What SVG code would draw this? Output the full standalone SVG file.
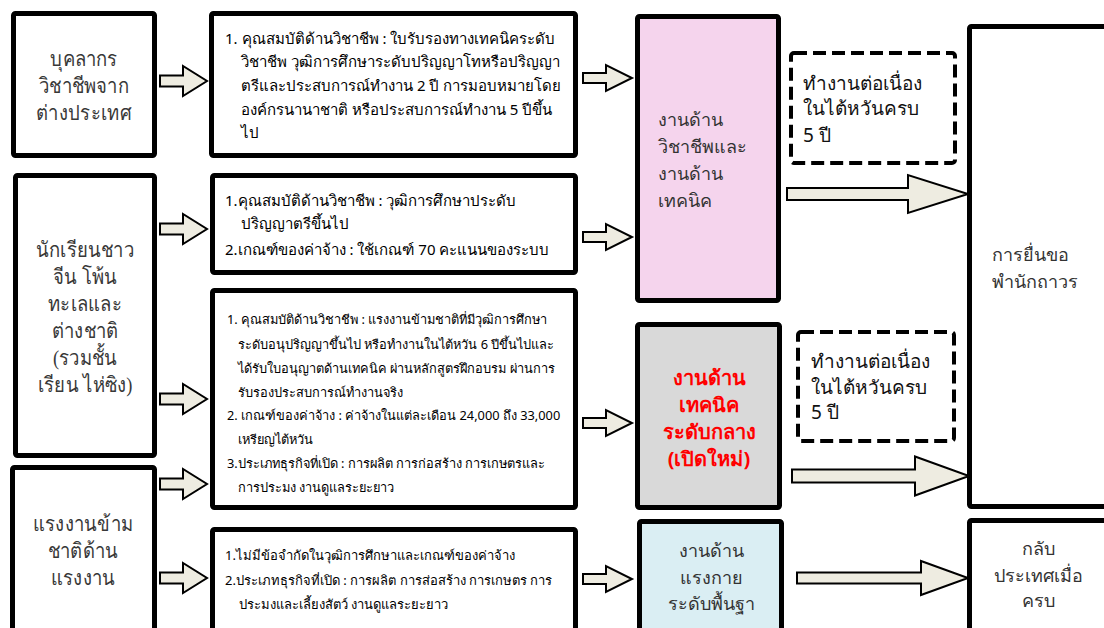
<svg xmlns="http://www.w3.org/2000/svg" width="1104" height="628" viewBox="0 0 1104 628">
<style>
.box{stroke:#000;stroke-width:5;stroke-linejoin:round}
.dash{fill:#fff;stroke:#000;stroke-width:4;stroke-dasharray:13 6}
.arr{fill:#eeece1;stroke:#000;stroke-width:2;stroke-linejoin:miter}
.lbl{font-family:"Liberation Serif","Noto Sans",serif;font-size:21px;fill:#383838;text-anchor:middle}
.mid{font-family:"Noto Sans","DejaVu Sans",sans-serif;font-size:18px;fill:#333}
.req{font-family:"Noto Sans","DejaVu Sans",sans-serif;font-size:15px;fill:#000}
.req2{font-family:"Noto Sans","DejaVu Sans",sans-serif;font-size:12.8px;fill:#000}
.req3{font-family:"Noto Sans","DejaVu Sans",sans-serif;font-size:13px;fill:#000}
.bold{font-family:"Noto Sans","DejaVu Sans",sans-serif;font-size:19px;fill:#111}
.red{font-family:"Noto Sans","DejaVu Sans",sans-serif;font-size:20px;font-weight:bold;fill:#ff0000}
.c{text-anchor:middle}
</style>
<rect width="1104" height="628" fill="#fff"/>
<g id="connectors">
<polygon class="arr" points="160,75.5 183,75.5 183,66 207,81 183,96 183,86.5 160,86.5"/>
<polygon class="arr" points="160,223.5 183,223.5 183,214 207,229 183,244 183,234.5 160,234.5"/>
<polygon class="arr" points="160,393.5 183,393.5 183,384 207,399 183,414 183,404.5 160,404.5"/>
<polygon class="arr" points="160,478.5 183,478.5 183,469 207,484 183,499 183,489.5 160,489.5"/>
<polygon class="arr" points="160,572.5 183,572.5 183,563 207,578 183,593 183,583.5 160,583.5"/>
<polygon class="arr" points="583,73 606,73 606,65 632,78 606,91 606,83 583,83"/>
<polygon class="arr" points="583,232 606,232 606,224 632,237 606,250 606,242 583,242"/>
<polygon class="arr" points="583,418 606,418 606,410 632,423 606,436 606,428 583,428"/>
<polygon class="arr" points="583,574 606,574 606,566 632,579 606,592 606,584 583,584"/>
<polygon class="arr" points="787,188 908,188 908,175 968,194 908,213 908,200 787,200"/>
<polygon class="arr" points="792,469.5 915,469.5 915,456.5 969,476 915,495.5 915,482.5 792,482.5"/>
<polygon class="arr" points="797,572.5 921,572.5 921,561 968,578 921,595 921,583.5 797,583.5"/>
</g>
<g id="n-foreign">
<rect class="box" x="13.5" y="13.5" width="141" height="142" rx="2" fill="#fff"/>
<text class="lbl" transform="translate(84 66) scale(0.88 1)">บุคลากร</text>
<text class="lbl" transform="translate(84 93) scale(0.88 1)">วิชาชีพจาก</text>
<text class="lbl" transform="translate(84 120) scale(0.88 1)">ต่างประเทศ</text>
</g>
<g id="n-req1">
<rect class="box" x="211.5" y="13.5" width="364" height="142" rx="2" fill="#fff"/>
<text class="req" x="225" y="44">1. คุณสมบัติด้านวิชาชีพ : ใบรับรองทางเทคนิคระดับ</text>
<text class="req" x="241" y="67">วิชาชีพ วุฒิการศึกษาระดับปริญญาโทหรือปริญญา</text>
<text class="req" x="241" y="91">ตรีและประสบการณ์ทำงาน 2 ปี การมอบหมายโดย</text>
<text class="req" x="241" y="115">องค์กรนานาชาติ หรือประสบการณ์ทำงาน 5 ปีขึ้น</text>
<text class="req" x="241" y="138">ไป</text>
</g>
<g id="n-students">
<rect class="box" x="15.5" y="175.5" width="139" height="280" rx="2" fill="#fff"/>
<text class="lbl" transform="translate(85 257) scale(0.88 1)">นักเรียนชาว</text>
<text class="lbl" transform="translate(85 284) scale(0.88 1)">จีน โพ้น</text>
<text class="lbl" transform="translate(85 311) scale(0.88 1)">ทะเลและ</text>
<text class="lbl" transform="translate(85 338) scale(0.88 1)">ต่างชาติ</text>
<text class="lbl" transform="translate(85 365) scale(0.88 1)">(รวมชั้น</text>
<text class="lbl" transform="translate(85 392) scale(0.88 1)">เรียน ไห่ซิง)</text>
</g>
<g id="n-req2">
<rect class="box" x="212.5" y="175.5" width="363" height="97" rx="2" fill="#fff"/>
<text class="req" x="225" y="206">1.คุณสมบัติด้านวิชาชีพ : วุฒิการศึกษาประดับ</text>
<text class="req" x="241" y="229">ปริญญาตรีขึ้นไป</text>
<text class="req" x="225" y="255">2.เกณฑ์ของค่าจ้าง : ใช้เกณฑ์ 70 คะแนนของระบบ</text>
</g>
<g id="n-req3">
<rect class="box" x="212.5" y="290.5" width="363" height="217" rx="2" fill="#fff"/>
<text class="req2" x="227" y="324">1. คุณสมบัติด้านวิชาชีพ : แรงงานข้ามชาติที่มีวุฒิการศึกษา</text>
<text class="req2" x="238" y="349">ระดับอนุปริญญาขึ้นไป หรือทำงานในไต้หวัน 6 ปีขึ้นไปและ</text>
<text class="req2" x="238" y="373">ได้รับใบอนุญาตด้านเทคนิค ผ่านหลักสูตรฝึกอบรม ผ่านการ</text>
<text class="req2" x="238" y="397">รับรองประสบการณ์ทำงานจริง</text>
<text class="req2" x="227" y="420">2. เกณฑ์ของค่าจ้าง : ค่าจ้างในแต่ละเดือน 24,000 ถึง 33,000</text>
<text class="req2" x="238" y="444">เหรียญไต้หวัน</text>
<text class="req2" x="227" y="468">3.ประเภทธุรกิจที่เปิด : การผลิต การก่อสร้าง การเกษตรและ</text>
<text class="req2" x="238" y="492">การประมง งานดูแลระยะยาว</text>
</g>
<g id="n-labour">
<rect class="box" x="12.5" y="467.5" width="142" height="175" rx="2" fill="#fff"/>
<text class="lbl" transform="translate(83 531) scale(0.88 1)">แรงงานข้าม</text>
<text class="lbl" transform="translate(83 558) scale(0.88 1)">ชาติด้าน</text>
<text class="lbl" transform="translate(83 585) scale(0.88 1)">แรงงาน</text>
</g>
<g id="n-req4">
<rect class="box" x="212.5" y="529.5" width="363" height="110" rx="2" fill="#fff"/>
<text class="req3" x="225" y="560">1.ไม่มีข้อจำกัดในวุฒิการศึกษาและเกณฑ์ของค่าจ้าง</text>
<text class="req3" x="225" y="585">2.ประเภทธุรกิจที่เปิด : การผลิต การส่อสร้าง การเกษตร การ</text>
<text class="req3" x="239" y="609">ประมงและเลี้ยงสัตว์ งานดูแลระยะยาว</text>
</g>
<g id="n-professional">
<rect class="box" x="637.5" y="16.5" width="141" height="284" rx="2" fill="#f5d4ed"/>
<text class="mid" x="658" y="126">งานด้าน</text>
<text class="mid" x="658" y="153">วิชาชีพและ</text>
<text class="mid" x="658" y="180">งานด้าน</text>
<text class="mid" x="658" y="207">เทคนิค</text>
</g>
<g id="n-midtech">
<rect class="box" x="637.5" y="324.5" width="142" height="183" rx="2" fill="#d9d9d9"/>
<text class="red c" x="709" y="385">งานด้าน</text>
<text class="red c" x="709" y="412">เทคนิค</text>
<text class="red c" x="709" y="439">ระดับกลาง</text>
<text class="red c" x="709" y="466">(เปิดใหม่)</text>
</g>
<g id="n-basic">
<rect class="box" x="639.5" y="521.5" width="142" height="118" rx="2" fill="#daeef3"/>
<text class="mid c" x="711" y="557">งานด้าน</text>
<text class="mid c" x="711" y="584">แรงกาย</text>
<text class="mid c" x="711" y="610">ระดับพื้นฐา</text>
</g>
<g id="n-cond1">
<rect class="dash" x="791" y="53" width="164" height="110" rx="3"/>
<text class="bold" x="803" y="90">ทำงานต่อเนื่อง</text>
<text class="bold" x="803" y="115">ในไต้หวันครบ</text>
<text class="bold" x="803" y="142">5 ปี</text>
</g>
<g id="n-cond2">
<rect class="dash" x="798" y="332" width="156" height="109" rx="3"/>
<text class="bold" x="811" y="368">ทำงานต่อเนื่อง</text>
<text class="bold" x="811" y="394">ในไต้หวันครบ</text>
<text class="bold" x="811" y="419">5 ปี</text>
</g>
<g id="n-permanent">
<rect class="box" x="969.5" y="26.5" width="140" height="480" rx="2" fill="#fff"/>
<text class="mid" x="992" y="261">การยื่นขอ</text>
<text class="mid" x="992" y="288">พำนักถาวร</text>
</g>
<g id="n-return">
<rect class="box" x="969.5" y="520.5" width="140" height="120" rx="2" fill="#fff"/>
<text class="mid c" x="1038" y="555">กลับ</text>
<text class="mid c" x="1038" y="582">ประเทศเมื่อ</text>
<text class="mid c" x="1038" y="607">ครบ</text>
</g>
</svg>
